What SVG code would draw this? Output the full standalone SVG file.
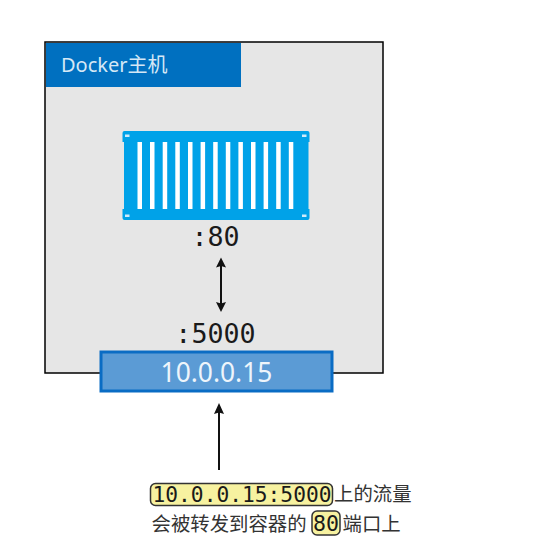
<svg xmlns="http://www.w3.org/2000/svg" width="545" height="560" viewBox="0 0 545 560">
<style>
.mono{font-family:"DejaVu Sans Mono","Liberation Mono",monospace;fill:#1a1a1a}
.cjk{font-family:"Noto Sans CJK SC","Noto Sans",sans-serif;fill:#333;font-size:19.400px}
.conn{stroke:#111;stroke-width:2;fill:none}
.ah{fill:#111}
.hl{fill:#f7f2a0;stroke:#333;stroke-width:1.500}
.slat{fill:#fff}
.bolt{fill:#cfeafa}
</style>
<rect width="545" height="560" fill="#fff"/>
<g id="docker-host">
<rect x="45" y="42" width="338" height="331" fill="#e6e6e6" stroke="#000" stroke-width="1.500"/>
<rect x="46" y="43" width="195" height="44" fill="#0070c0"/>
<text x="61" y="72" font-size="20" fill="#d5e8f6" font-family="'Noto Sans','Noto Sans CJK SC',sans-serif">Docker主机</text>
</g>
<g id="container">
<path d="M122.500 133a2 2 0 0 1 2-2h183a2 2 0 0 1 2 2v9h-1v67h1v9a2 2 0 0 1-2 2h-183a2 2 0 0 1-2-2v-9h1.500v-67h-1.500z" fill="#00a2e8"/>
<g class="slat">
<rect x="137.500" y="142" width="4.500" height="67"/><rect x="150" y="142" width="4.500" height="67"/><rect x="162.700" y="142" width="4.500" height="67"/><rect x="175.300" y="142" width="4.500" height="67"/><rect x="188" y="142" width="4.500" height="67"/><rect x="200.600" y="142" width="4.500" height="67"/><rect x="213.200" y="142" width="4.500" height="67"/><rect x="225.800" y="142" width="4.500" height="67"/><rect x="238.400" y="142" width="4.500" height="67"/><rect x="251" y="142" width="4.500" height="67"/><rect x="263.600" y="142" width="4.500" height="67"/><rect x="276.200" y="142" width="4.500" height="67"/><rect x="288.800" y="142" width="4.500" height="67"/>
</g>
<g class="bolt">
<rect x="125" y="134.500" width="4.500" height="2.500"/><rect x="302" y="134.500" width="4.500" height="2.500"/><rect x="125" y="214.500" width="4.500" height="2.500"/><rect x="302" y="214.500" width="4.500" height="2.500"/>
</g>
<text x="215.500" y="246" text-anchor="middle" font-size="26.700" class="mono">:80</text>
</g>
<g id="host-port">
<text x="215.500" y="343" text-anchor="middle" font-size="26.700" class="mono">:5000</text>
<rect x="101" y="352" width="231" height="39" fill="#5b9bd5" stroke="#0a6cc4" stroke-width="3"/>
<text x="216.500" y="382" text-anchor="middle" font-size="26.400" fill="#eef5fb" font-family="'Noto Sans',sans-serif">10.0.0.15</text>
</g>
<g id="connectors">
<path class="conn" d="M221 264V305"/>
<path class="ah" d="M221 257.500l-5 10 5-1.500 5 1.500zM221 312l-5-10 5 1.500 5-1.500z"/>
<path class="conn" d="M219 410V470"/>
<path class="ah" d="M219 403l-5 11 5-1.500 5 1.500z"/>
</g>
<g id="note">
<rect x="150.500" y="483.500" width="182" height="22" rx="5" class="hl"/>
<text x="152.500" y="502" font-size="21" class="mono" textLength="179" lengthAdjust="spacingAndGlyphs">10.0.0.15:5000</text>
<text x="334" y="501" class="cjk">上的流量</text>
<rect x="312" y="511" width="28" height="24" rx="5" class="hl"/>
<text x="151.500" y="531" class="cjk">会被转发到容器的</text>
<text x="313" y="531" font-size="22" class="mono" textLength="26" lengthAdjust="spacingAndGlyphs">80</text>
<text x="342.500" y="531" class="cjk">端口上</text>
</g>
</svg>
